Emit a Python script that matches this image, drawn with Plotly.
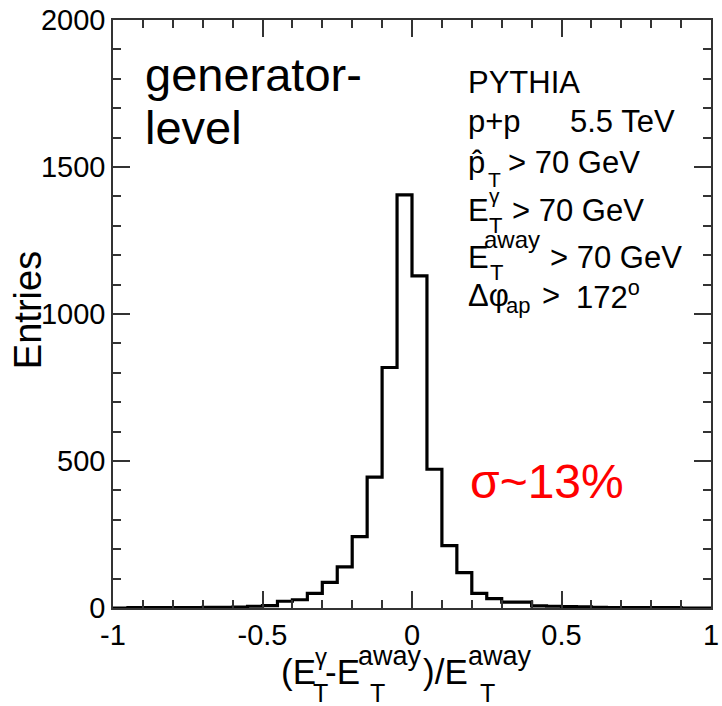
import numpy as np
import plotly.graph_objects as go

# ---- data ----
x_min, x_max, n_bins = -1.0, 1.0, 40
counts = [0, 1, 1, 1, 1, 1, 2, 2,
          3, 6, 8, 23, 28, 50, 87, 140, 243, 445, 818, 1405,
          1130, 472, 212, 120, 50, 32, 20, 20, 7, 6, 5, 4,
          2, 1, 1, 1, 1, 1, 0, 0]
x_tickvals = [-1, -0.5, 0, 0.5, 1]
x_ticktext = ["-1", "-0.5", "0", "0.5", "1"]
y_tickvals = [0, 500, 1000, 1500, 2000]
y_ticktext = ["0", "500", "1000", "1500", "2000"]

edges = np.linspace(x_min, x_max, n_bins + 1)
ys = list(counts) + [counts[-1]]

W, H = 722, 706
L, R, T, B = 113, 3, 20, 98
PW, PH = W - L - R, H - T - B
FONT = "Liberation Sans, Arial, Helvetica, sans-serif"


def px(x):
    return (x - L) / PW


def py(y):
    return (H - B - y) / PH


fig = go.Figure()
fig.add_trace(go.Scatter(x=edges, y=ys, mode="lines", line_shape="hv",
                         line=dict(color="black", width=3.2), showlegend=False,
                         hoverinfo="skip"))

anns = []


def txt(s, x, y, size, color="black", xanchor="left", angle=0):
    anns.append(dict(text=s, x=px(x), y=py(y), xref="paper", yref="paper",
                     xanchor=xanchor, yanchor="middle", showarrow=False,
                     textangle=angle, borderpad=0,
                     font=dict(family=FONT, size=size, color=color)))


# y axis title
txt("Entries", 27, 310, 38, xanchor="center", angle=-90)

# big labels
txt("generator-", 144, 74, 47)
txt("level", 144, 127, 47)

# PYTHIA block
s1 = 31
txt("PYTHIA", 472, 83, s1)
txt("p+p", 472, 122, s1)
txt("5.5 TeV", 575, 122, s1)

txt("p\u0302", 472, 162, s1)
txt("T", 492, 180, 21)
txt("> 70 GeV", 512, 162, s1)

txt("E", 472, 211, s1)
txt("T", 493, 226, 22)
txt("\u03b3", 493, 195, 21)
txt("> 70 GeV", 516, 211, s1)

txt("E", 472, 257, s1)
txt("T", 494, 272, 22)
txt("away", 488, 239, 24)
txt("> 70 GeV", 555, 257, s1)

txt("\u0394\u03c6", 472, 295, s1)
txt("ap", 510, 305, 22)
txt(">", 547, 295, s1)
txt("172<sup>o</sup>", 581, 295, s1)

txt("\u03c3~13%", 474, 481, 48, color="red")

# x axis title
s3, s4 = 35, 27
txt("(E", 282, 671, s3)
txt("T", 315, 693, s4 - 2)
txt("\u03b3", 317, 656, s4 - 3)
txt("-E", 327, 671, s3)
txt("T", 372, 693, s4 - 2)
txt("away", 360, 656, s4)
txt(")/E", 426, 671, s3)
txt("T", 484, 693, s4 - 2)
txt("away", 472, 656, s4)

axis_common = dict(showline=True, linecolor="#333", linewidth=1.5, mirror="ticks",
                   ticks="inside", tickcolor="#333", tickwidth=1.5, ticklen=17,
                   showgrid=False, zeroline=False, ticklabeloverflow="allow",
                   tickfont=dict(family=FONT, size=29, color="black"))

fig.update_layout(
    width=W, height=H, margin=dict(l=L, r=R, t=T, b=B),
    paper_bgcolor="white", plot_bgcolor="white",
    xaxis=dict(range=[x_min, x_max], tickmode="array", tickvals=x_tickvals,
               ticktext=x_ticktext,
               minor=dict(dtick=0.1, ticks="inside", ticklen=8, tickcolor="#333",
                          tickwidth=1.5, showgrid=False),
               **axis_common),
    yaxis=dict(range=[0, 2000], tickmode="array", tickvals=y_tickvals,
               ticktext=y_ticktext,
               minor=dict(dtick=100, ticks="inside", ticklen=8, tickcolor="#333",
                          tickwidth=1.5, showgrid=False),
               **axis_common),
    annotations=anns,
)

fig.write_html("out.html")
